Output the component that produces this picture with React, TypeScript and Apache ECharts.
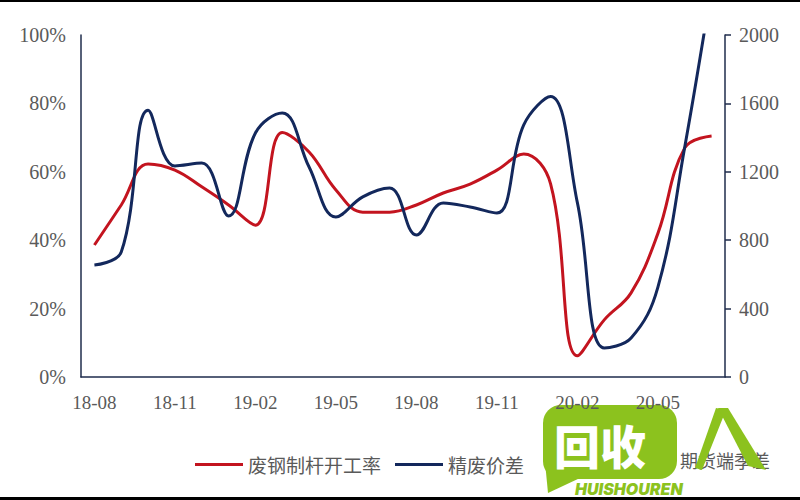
import React, { useEffect, useRef } from "react";
import * as echarts from "echarts";

const categories = [
  "18-08", "18-09", "18-10", "18-11", "18-12", "19-01", "19-02", "19-03",
  "19-04", "19-05", "19-06", "19-07", "19-08", "19-09", "19-10", "19-11",
  "19-12", "20-01", "20-02", "20-03", "20-04", "20-05", "20-06", "20-07",
];
const operatingRate = [
  38.6, 50.3, 62.3, 60.5, 55.6, 50.3, 44.4, 71.5,
  65.8, 54.7, 48.2, 48.2, 50.3, 53.8, 56.4, 60.5,
  65.2, 56.5, 6.2, 16.7, 24.6, 42, 67, 70.5,
];
const priceSpread = [
  655, 731, 1560, 1234, 1251, 942, 1427, 1544,
  1228, 936, 1053, 1105, 830, 1018, 994, 959,
  1474, 1640, 1018, 170, 228, 526, 1345, 2280,
];
const seriesNames = ["废钢制杆开工率", "精废价差"];
const hiddenLegendText = "期货端季差";

const RED = "#c3141f";
const BLUE = "#13285c";
const AXIS = "#1f2d4d";
const LABEL = "#5a5a5a";
const GREEN = "#8cc21e";

export default function App() {
  const ref = useRef<HTMLDivElement>(null);
  useEffect(() => {
    if (!ref.current) return;
    const chart = echarts.init(ref.current, undefined, { renderer: "svg" });
    chart.setOption({
      animation: false,
      backgroundColor: "#ffffff",
      grid: { left: 81, right: 75, top: 35, bottom: 123 },
      legend: {
        left: 190,
        top: 450,
        itemGap: 14,
        itemWidth: 48,
        itemHeight: 3,
        icon: "rect",
        textStyle: { fontFamily: "Noto Sans CJK SC", fontSize: 19, color: LABEL },
        data: seriesNames,
      },
      xAxis: {
        type: "category",
        data: categories,
        boundaryGap: true,
        axisLine: { lineStyle: { color: AXIS, width: 1.5 } },
        axisTick: { interval: 2, length: 8, lineStyle: { color: AXIS, width: 1.5 } },
        axisLabel: {
          interval: 2,
          margin: 16,
          fontFamily: "Liberation Serif",
          fontSize: 19,
          color: LABEL,
        },
      },
      yAxis: [
        {
          type: "value",
          min: 0,
          max: 100,
          interval: 20,
          axisLine: { show: true, lineStyle: { color: AXIS, width: 1.5 } },
          axisTick: { show: false },
          splitLine: { show: false },
          axisLabel: {
            formatter: "{value}%",
            margin: 15,
            fontFamily: "Liberation Serif",
            fontSize: 20,
            color: LABEL,
          },
        },
        {
          type: "value",
          min: 0,
          max: 2000,
          interval: 400,
          position: "right",
          axisLine: { show: true, lineStyle: { color: AXIS, width: 1.5 } },
          axisTick: { show: true, length: 6, lineStyle: { color: AXIS, width: 1.5 } },
          splitLine: { show: false },
          axisLabel: {
            formatter: (v: number) => String(v),
            margin: 14,
            fontFamily: "Liberation Serif",
            fontSize: 20,
            color: LABEL,
          },
        },
      ],
      series: [
        {
          name: seriesNames[0],
          type: "line",
          yAxisIndex: 0,
          data: operatingRate,
          smooth: 0.4,
          showSymbol: false,
          lineStyle: { color: RED, width: 3 },
          itemStyle: { color: RED },
        },
        {
          name: seriesNames[1],
          type: "line",
          yAxisIndex: 1,
          data: priceSpread,
          smooth: 0.4,
          showSymbol: false,
          clip: true,
          lineStyle: { color: BLUE, width: 3 },
          itemStyle: { color: BLUE },
        },
      ],
      graphic: [
        { type: "line", shape: { x1: 0, y1: 1, x2: 800, y2: 1 }, style: { stroke: "#000", lineWidth: 2 } },
        { type: "line", shape: { x1: 0, y1: 498.5, x2: 800, y2: 498.5 }, style: { stroke: "#000", lineWidth: 3 } },
        {
          type: "text",
          x: 680,
          y: 451,
          style: { text: hiddenLegendText, fontFamily: "Noto Sans CJK SC", fontSize: 18, fill: LABEL },
        },
        {
          type: "group",
          z: 100,
          children: [
            { type: "rect", shape: { x: 543, y: 405, width: 134, height: 74, r: 18 }, style: { fill: GREEN } },
            { type: "polygon", shape: { points: [[545, 462], [580, 478], [548, 493]] }, style: { fill: GREEN } },
            {
              type: "text",
              x: 554,
              y: 421,
              style: { text: "回收", fontFamily: "Noto Sans CJK SC", fontWeight: 900, fontSize: 46, fill: "#ffffff", lineHeight: 46 },
            },
            {
              type: "text",
              x: 575,
              y: 481,
              style: { text: "HUISHOUREN", fontFamily: "Inter", fontWeight: 900, fontStyle: "italic", fontSize: 16, fill: GREEN, lineHeight: 16 },
            },
            { type: "polygon", shape: { points: [[716, 408], [726, 410], [702, 470], [695, 468]] }, style: { fill: GREEN } },
            { type: "polygon", shape: { points: [[718, 408], [728, 408], [766, 470], [748, 466]] }, style: { fill: GREEN } },
          ],
        },
      ],
    });
    return () => chart.dispose();
  }, []);
  return (
    <div
      ref={ref}
      style={{ position: "fixed", left: 0, top: 0, width: 800, height: 500, background: "#fff" }}
    />
  );
}
